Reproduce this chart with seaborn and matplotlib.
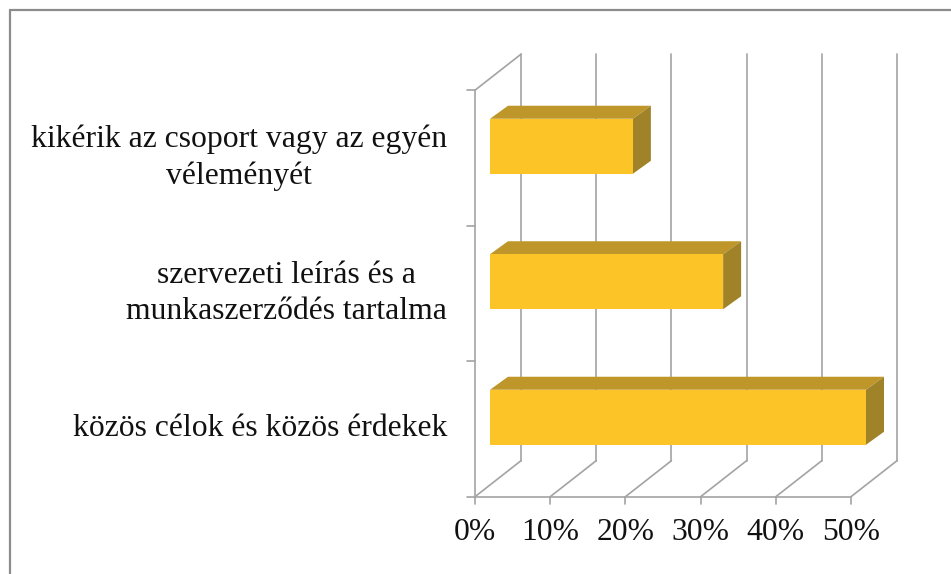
import matplotlib
matplotlib.use("Agg")
import matplotlib.pyplot as plt
from matplotlib.patches import Polygon
from matplotlib.lines import Line2D
import seaborn as sns
import pandas as pd

# Data
categories = [
    "kikérik az csoport vagy az egyén\nvéleményét",
    "szervezeti leírás és a\nmunkaszerződés tartalma",
    "közös célok és közös érdekek",
]
values = [19, 31, 50]
x_ticks = [0, 10, 20, 30, 40, 50]
x_tick_labels = ["0%", "10%", "20%", "30%", "40%", "50%"]

FRONT = "#FCC427"
TOP = "#BF9629"
SIDE = "#A08328"
GRID = "#A3A3A3"

sns.set_style("white")
plt.rcParams["font.family"] = ["Liberation Serif", "DejaVu Serif"]

W, H = 951, 574
fig = plt.figure(figsize=(W / 100, H / 100), dpi=100)
# axes = plane of the bars' front faces (pixel geometry from the reference)
x0_px, x1_px = 490, 866
ytop_px, ybot_px = 78.5, 485
ax = fig.add_axes([x0_px / W, 1 - ybot_px / H, (x1_px - x0_px) / W, (ybot_px - ytop_px) / H])

df = pd.DataFrame({"cat": categories, "val": values})
sns.barplot(data=df, x="val", y="cat", orient="h", color=FRONT, saturation=1,
            width=0.406, ax=ax, zorder=3, edgecolor="none", linewidth=0)
ax.set_xlim(0, 50)
ax.set_ylim(2.5, -0.5)
ax.axis("off")

sx = (x1_px - x0_px) / 50.0      # px per percent
sy = (ybot_px - ytop_px) / 3.0   # px per category


def off(x, y, dx, dy):
    return x + dx / sx, y + dy / sy


def F(x, y):  # front wall plane
    return off(x, y, -15, 11.7)


def B(x, y):  # back wall plane
    return off(x, y, 31, -24.3)


def line(p, q, **kw):
    ax.add_line(Line2D([p[0], q[0]], [p[1], q[1]], color=GRID, lw=1.2,
                       clip_on=False, zorder=1, **kw))


# walls and gridlines
for t in x_ticks:
    line(B(t, 2.5), B(t, -0.5))
    line(F(t, 2.5), B(t, 2.5))
    line(F(t, 2.5), off(*F(t, 2.5), 0, 7))
line(F(0, 2.5), F(50, 2.5))
line(F(0, 2.5), F(0, -0.5))
line(F(0, -0.5), B(0, -0.5))
for yv in [-0.5, 0.5, 1.5, 2.5]:
    line(F(0, yv), off(*F(0, yv), -8, 0))

# 3D faces of the bars
ddx, ddy = 18, -13
for p in ax.patches:
    x_a, y_a = p.get_x(), p.get_y()
    w, h = p.get_width(), p.get_height()
    x_b, y_b = x_a + w, y_a + h
    top = [(x_a, y_a), (x_b, y_a), off(x_b, y_a, ddx, ddy), off(x_a, y_a, ddx, ddy)]
    side = [(x_b, y_a), (x_b, y_b), off(x_b, y_b, ddx, ddy), off(x_b, y_a, ddx, ddy)]
    ax.add_patch(Polygon(top, closed=True, facecolor=TOP, edgecolor="none",
                         clip_on=False, zorder=2))
    ax.add_patch(Polygon(side, closed=True, facecolor=SIDE, edgecolor="none",
                         clip_on=False, zorder=2))

# category labels
for i, c in enumerate(categories):
    x, y = F(0, i)
    ax.text(x - 28 / sx, y, c, ha="right", va="center", multialignment="center",
            fontsize=22.8, color="#111111", linespacing=1.35, clip_on=False)

# x tick labels
for t, lab in zip(x_ticks, x_tick_labels):
    x, y = F(t, 2.5)
    ax.text(x, y + 36 / sy, lab, ha="center", va="center", fontsize=22.8,
            color="#111111", clip_on=False)

# chart border (top and left)
fig.add_artist(Line2D([10 / W, 1], [1 - 10 / H, 1 - 10 / H], color="#8C8C8C",
                      lw=1.6, transform=fig.transFigure))
fig.add_artist(Line2D([10 / W, 10 / W], [0, 1 - 10 / H], color="#8C8C8C",
                      lw=1.6, transform=fig.transFigure))

fig.savefig("out.png", dpi=100)
